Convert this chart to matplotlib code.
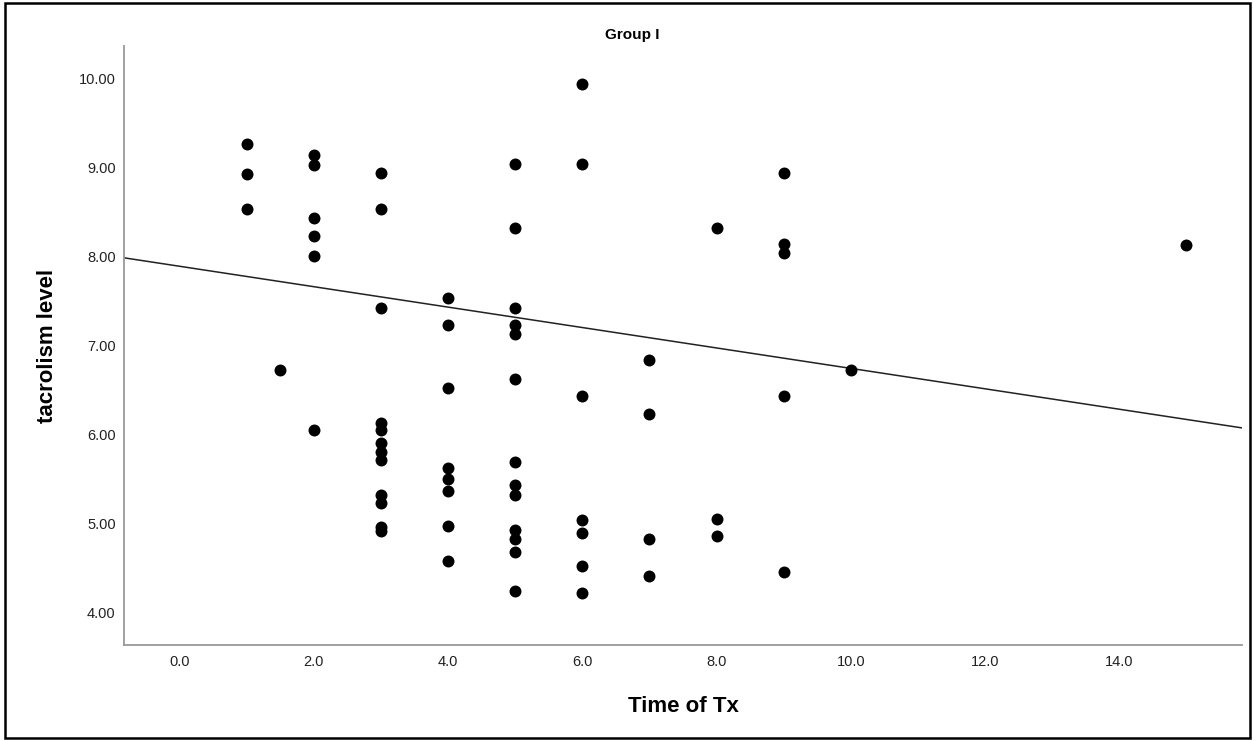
import matplotlib
matplotlib.use("Agg")
import matplotlib.pyplot as plt
from matplotlib.patches import Rectangle

plt.rcParams['font.family'] = ['Liberation Sans', 'DejaVu Sans']

# Time of Tx (x) and tacrolism level (y)
time_tx = [1, 1, 1,
           1.5,
           2, 2, 2, 2, 2, 2,
           3, 3, 3, 3, 3, 3, 3, 3, 3, 3, 3, 3,
           4, 4, 4, 4, 4, 4, 4, 4,
           5, 5, 5, 5, 5, 5, 5, 5, 5, 5, 5, 5, 5,
           6, 6, 6, 6, 6, 6, 6,
           7, 7, 7, 7,
           8, 8, 8,
           9, 9, 9, 9, 9,
           10,
           15]
tac_level = [9.27, 8.93, 8.54,
             6.73,
             9.14, 9.03, 8.44, 8.23, 8.01, 6.05,
             8.94, 8.54, 7.43, 6.13, 6.06, 5.91, 5.81, 5.72, 5.33, 5.23, 4.97, 4.92,
             7.54, 7.23, 6.53, 5.63, 5.50, 5.37, 4.98, 4.58,
             9.04, 8.33, 7.43, 7.24, 7.13, 6.63, 5.70, 5.44, 5.32, 4.93, 4.83, 4.69, 4.25,
             9.94, 9.04, 6.44, 5.05, 4.90, 4.53, 4.22,
             6.84, 6.24, 4.83, 4.42,
             8.33, 5.06, 4.87,
             8.94, 8.15, 8.04, 6.44, 4.46,
             6.73,
             8.13]

# fit line (intercept, slope) as drawn on the chart
fit_intercept = 7.895
fit_slope = -0.1147

x_ticks = [0, 2, 4, 6, 8, 10, 12, 14]
y_ticks = [4, 5, 6, 7, 8, 9, 10]

fig = plt.figure(figsize=(12.53, 7.40), dpi=100)
ax = fig.add_axes([124/1253, 95/740, (1242-124)/1253, (645-46)/740])

xlim = (-0.83, 15.83)
ax.set_xlim(*xlim)
ax.set_ylim(3.64, 10.37)

ax.plot(list(xlim), [fit_intercept + fit_slope*v for v in xlim],
        color='#222222', lw=1.1, zorder=2)
ax.plot(time_tx, tac_level, 'o', color='black', markersize=8.6,
        markeredgewidth=0, zorder=3)

ax.set_xticks(x_ticks)
ax.set_xticklabels([f"{v:.1f}" for v in x_ticks])
ax.set_yticks(y_ticks)
ax.set_yticklabels([f"{v:.2f}" for v in y_ticks])
ax.tick_params(axis='both', length=0, labelsize=10.5, labelcolor='#222222')
ax.tick_params(axis='x', pad=7)
ax.tick_params(axis='y', pad=6)

for s in ['top', 'right']:
    ax.spines[s].set_visible(False)
for s in ['left', 'bottom']:
    ax.spines[s].set_color('#999999')
    ax.spines[s].set_linewidth(1.3)

ax.set_xlabel("Time of Tx", fontsize=16, fontweight='bold', labelpad=20)
ax.set_ylabel("tacrolism level", fontsize=16, fontweight='bold', labelpad=15)

fig.text(632/1253, 1 - 39/740, "Group I", ha='center', va='baseline',
         fontsize=11, fontweight='bold')

# outer frame around the whole chart
fig.patches.append(Rectangle((5/1253, 2/740), 1245/1253, 735/740,
                             transform=fig.transFigure, fill=False,
                             edgecolor='black', linewidth=1.8))

fig.savefig("out.png", dpi=100)
